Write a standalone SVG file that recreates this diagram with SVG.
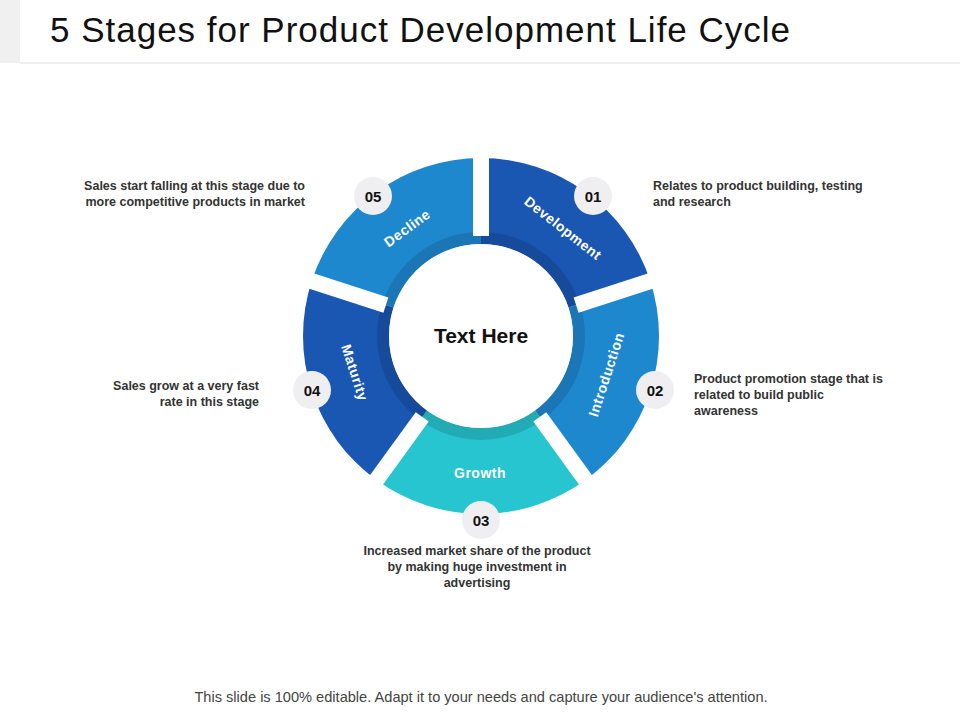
<svg xmlns="http://www.w3.org/2000/svg" width="960" height="720" viewBox="0 0 960 720">
<style>
text{font-family:"Liberation Sans",Arial,sans-serif}
.d{font-size:12.5px;font-weight:bold;fill:#333}
.n{font-size:15px;font-weight:bold;fill:#111;text-anchor:middle}
.l{font-size:14px;font-weight:bold;fill:#fff;text-anchor:middle;letter-spacing:0.5px}
.b{fill:#efeff1}
.dk{fill:#000;opacity:0.13}
.gap{fill:#fff}
</style>
<rect width="960" height="720" fill="#fff"/>
<rect x="0" y="0" width="20" height="63" fill="#f0f0f0"/>
<rect x="20" y="62" width="940" height="2" fill="#f0f0f0"/>
<text x="50" y="42" font-size="35" fill="#111" textLength="740" lengthAdjust="spacing">5 Stages for Product Development Life Cycle</text>
<circle cx="481" cy="336" r="100" fill="#d9d9dd"/>
<g id="development"><path d="M481 158A178 178 0 0 1 650.3 281L568.5 307.6A92 92 0 0 0 481 244Z" fill="#1a57b3"/><path class="dk" d="M481 232A104 104 0 0 1 579.9 303.9L568.5 307.6A92 92 0 0 0 481 244Z"/></g>
<g id="introduction"><path d="M650.3 281A178 178 0 0 1 585.6 480L535.1 410.4A92 92 0 0 0 568.5 307.6Z" fill="#1e88cf"/><path class="dk" d="M579.9 303.9A104 104 0 0 1 542.1 420.1L535.1 410.4A92 92 0 0 0 568.5 307.6Z"/></g>
<g id="growth"><path d="M585.6 480A178 178 0 0 1 376.4 480L426.9 410.4A92 92 0 0 0 535.1 410.4Z" fill="#26c5cf"/><path class="dk" d="M542.1 420.1A104 104 0 0 1 419.9 420.1L426.9 410.4A92 92 0 0 0 535.1 410.4Z"/></g>
<g id="maturity"><path d="M376.4 480A178 178 0 0 1 311.7 281L393.5 307.6A92 92 0 0 0 426.9 410.4Z" fill="#1a57b3"/><path class="dk" d="M419.9 420.1A104 104 0 0 1 382.1 303.9L393.5 307.6A92 92 0 0 0 426.9 410.4Z"/></g>
<g id="decline"><path d="M311.7 281A178 178 0 0 1 481 158L481 244A92 92 0 0 0 393.5 307.6Z" fill="#1e88cf"/><path class="dk" d="M382.1 303.9A104 104 0 0 1 481 232L481 244A92 92 0 0 0 393.5 307.6Z"/></g>
<g id="gaps">
<rect class="gap" x="473" y="150" width="16" height="86"/>
<rect class="gap" x="473" y="150" width="16" height="86" transform="rotate(72 481 336)"/>
<rect class="gap" x="473" y="150" width="16" height="86" transform="rotate(144 481 336)"/>
<rect class="gap" x="473" y="150" width="16" height="86" transform="rotate(216 481 336)"/>
<rect class="gap" x="473" y="150" width="16" height="86" transform="rotate(288 481 336)"/>
</g>
<g id="center"><circle cx="481" cy="336" r="92" fill="#fff"/><text x="481" y="343" font-size="21" font-weight="bold" text-anchor="middle" fill="#111">Text Here</text></g>
<g id="labels">
<text class="l" transform="translate(560 232) rotate(38)">Development</text>
<text class="l" transform="translate(410 232) rotate(-36)">Decline</text>
<text class="l" transform="translate(611 376) rotate(-72)">Introduction</text>
<text class="l" transform="translate(350 374) rotate(72)">Maturity</text>
<text class="l" x="480" y="478">Growth</text>
</g>
<g id="badges">
<circle class="b" cx="373" cy="196" r="19"/><text class="n" x="373" y="202">05</text>
<circle class="b" cx="593" cy="196" r="19"/><text class="n" x="593" y="202">01</text>
<circle class="b" cx="655" cy="390" r="19"/><text class="n" x="655" y="396">02</text>
<circle class="b" cx="481" cy="520" r="19"/><text class="n" x="481" y="526">03</text>
<circle class="b" cx="312" cy="390" r="19"/><text class="n" x="312" y="396">04</text>
</g>
<g id="descriptions">
<text class="d" text-anchor="end"><tspan x="305" y="190">Sales start  falling at this stage  due to</tspan><tspan x="305" y="206">more competitive products  in market</tspan></text>
<text class="d"><tspan x="653" y="190">Relates to product building, testing</tspan><tspan x="653" y="206">and research</tspan></text>
<text class="d"><tspan x="694" y="383">Product promotion stage that is</tspan><tspan x="694" y="399">related to build public</tspan><tspan x="694" y="415">awareness</tspan></text>
<text class="d" text-anchor="end"><tspan x="259" y="390">Sales grow at a very fast</tspan><tspan x="259" y="406">rate in this stage</tspan></text>
<text class="d" text-anchor="middle"><tspan x="477" y="555">Increased market share of the product</tspan><tspan x="477" y="571">by making huge investment in</tspan><tspan x="477" y="587">advertising</tspan></text>
</g>
<text x="481" y="702" font-size="14.6" fill="#444" text-anchor="middle">This slide is 100% editable. Adapt it to your needs and capture your audience's attention.</text>
</svg>
